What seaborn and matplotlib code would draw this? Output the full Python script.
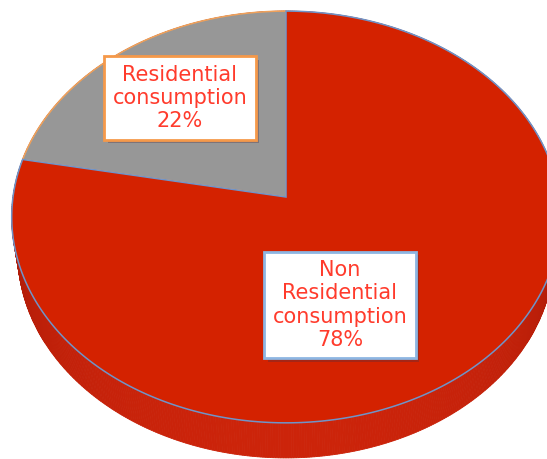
import textwrap

import matplotlib
matplotlib.use("Agg")
import matplotlib.pyplot as plt
import matplotlib.patheffects as pe
import numpy as np
import seaborn as sns
from matplotlib.path import Path
from matplotlib.transforms import Transform

# --- data -------------------------------------------------------------
categories = ["Residential consumption", "Non Residential consumption"]
shares = [22, 78]
slice_colors = ["#979797", "#d42200"]
edge_colors = ["#f0a15a", "#6f94c9"]
label_edges = ["#f5994a", "#8db6e2"]

sns.set_theme(style="white")
plt.rcParams["font.family"] = ["DejaVu Sans"]


class DiscView(Transform):
    """Perspective view of a flat unit disc tilted towards the viewer."""
    input_dims = output_dims = 2
    is_separable = False
    has_inverse = False

    def __init__(self, tilt_sin=0.747, persp=0.097, z=0.0):
        super().__init__()
        self.s = tilt_sin
        self.c = np.sqrt(1 - tilt_sin ** 2)
        self.k = persp / self.c
        self.z = z

    def transform_non_affine(self, pts):
        pts = np.asarray(pts, dtype=float)
        x, y = pts[:, 0], pts[:, 1]
        v = y * self.s + self.z * self.c
        depth = y * self.c - self.z * self.s
        w = 1 + depth * self.k
        return np.column_stack([x / w, v / w])

    def transform_path_non_affine(self, path):
        # flatten Bezier arcs into fine polylines before projecting
        t = np.linspace(0, 1, 24)
        pieces = []
        for bez, code in path.iter_bezier():
            if code == Path.MOVETO:
                pieces.append(bez.control_points[:1])
            else:
                pieces.append(bez(t)[1:])
        verts = np.concatenate(pieces)
        return Path(self.transform_non_affine(verts), closed=True)


fig = plt.figure(figsize=(5.47, 4.59), dpi=100)
ax = fig.add_axes([0, 0, 1, 1])

top = DiscView(z=0.0)
bottom = DiscView(z=-0.207)

# side wall of the disc, shaded by how much it faces the viewer
theta = np.linspace(0, 2 * np.pi, 721)
bright = np.array([0.80, 0.14, 0.04])
dark = np.array([0.52, 0.06, 0.02])
for a0, a1 in zip(theta[:-1], theta[1:]):
    ring = np.array([[np.cos(a0), np.sin(a0)], [np.cos(a1), np.sin(a1)]])
    p_top = top.transform(ring)
    p_bot = bottom.transform(ring)
    quad = np.vstack([p_top, p_bot[::-1]])
    face = max(0.0, -np.sin((a0 + a1) / 2))
    col = dark + (bright - dark) * face ** 0.35
    ax.fill(quad[:, 0], quad[:, 1], color=col, lw=0.6, ec=col, zorder=1)

# top face of the pie
wedges, _ = ax.pie(shares, colors=slice_colors, startangle=90,
                   counterclock=True,
                   wedgeprops=dict(linewidth=1.1))
for w, ec in zip(wedges, edge_colors):
    w.set_edgecolor(ec)
    w.set_transform(top + ax.transData)
    w.set_zorder(2)

ax.set_aspect("auto")
ax.set_xlim(-286 / 273, 261 / 273)
ax.set_ylim(-262 / 273, 197 / 273)
ax.axis("off")

# data labels
label_pos = [(180 / 547, 1 - 98 / 459), (340 / 547, 1 - 305 / 459)]
for cat, val, pos, ec in zip(categories, shares, label_pos, label_edges):
    txt = "\n".join(textwrap.wrap(cat, 12)) + f"\n{val}%"
    t = ax.text(pos[0], pos[1], txt, transform=fig.transFigure,
                ha="center", va="center", ma="center", fontsize=15,
                color="#ff3b2c", linespacing=1.2, zorder=5,
                bbox=dict(boxstyle="square,pad=0.4", fc="white", ec=ec, lw=2))
    t.get_bbox_patch().set_path_effects([
        pe.SimplePatchShadow(offset=(2.5, -2.5), shadow_rgbFace="#503040",
                             alpha=0.35),
        pe.Normal(),
    ])

fig.savefig("out.png", dpi=100)
